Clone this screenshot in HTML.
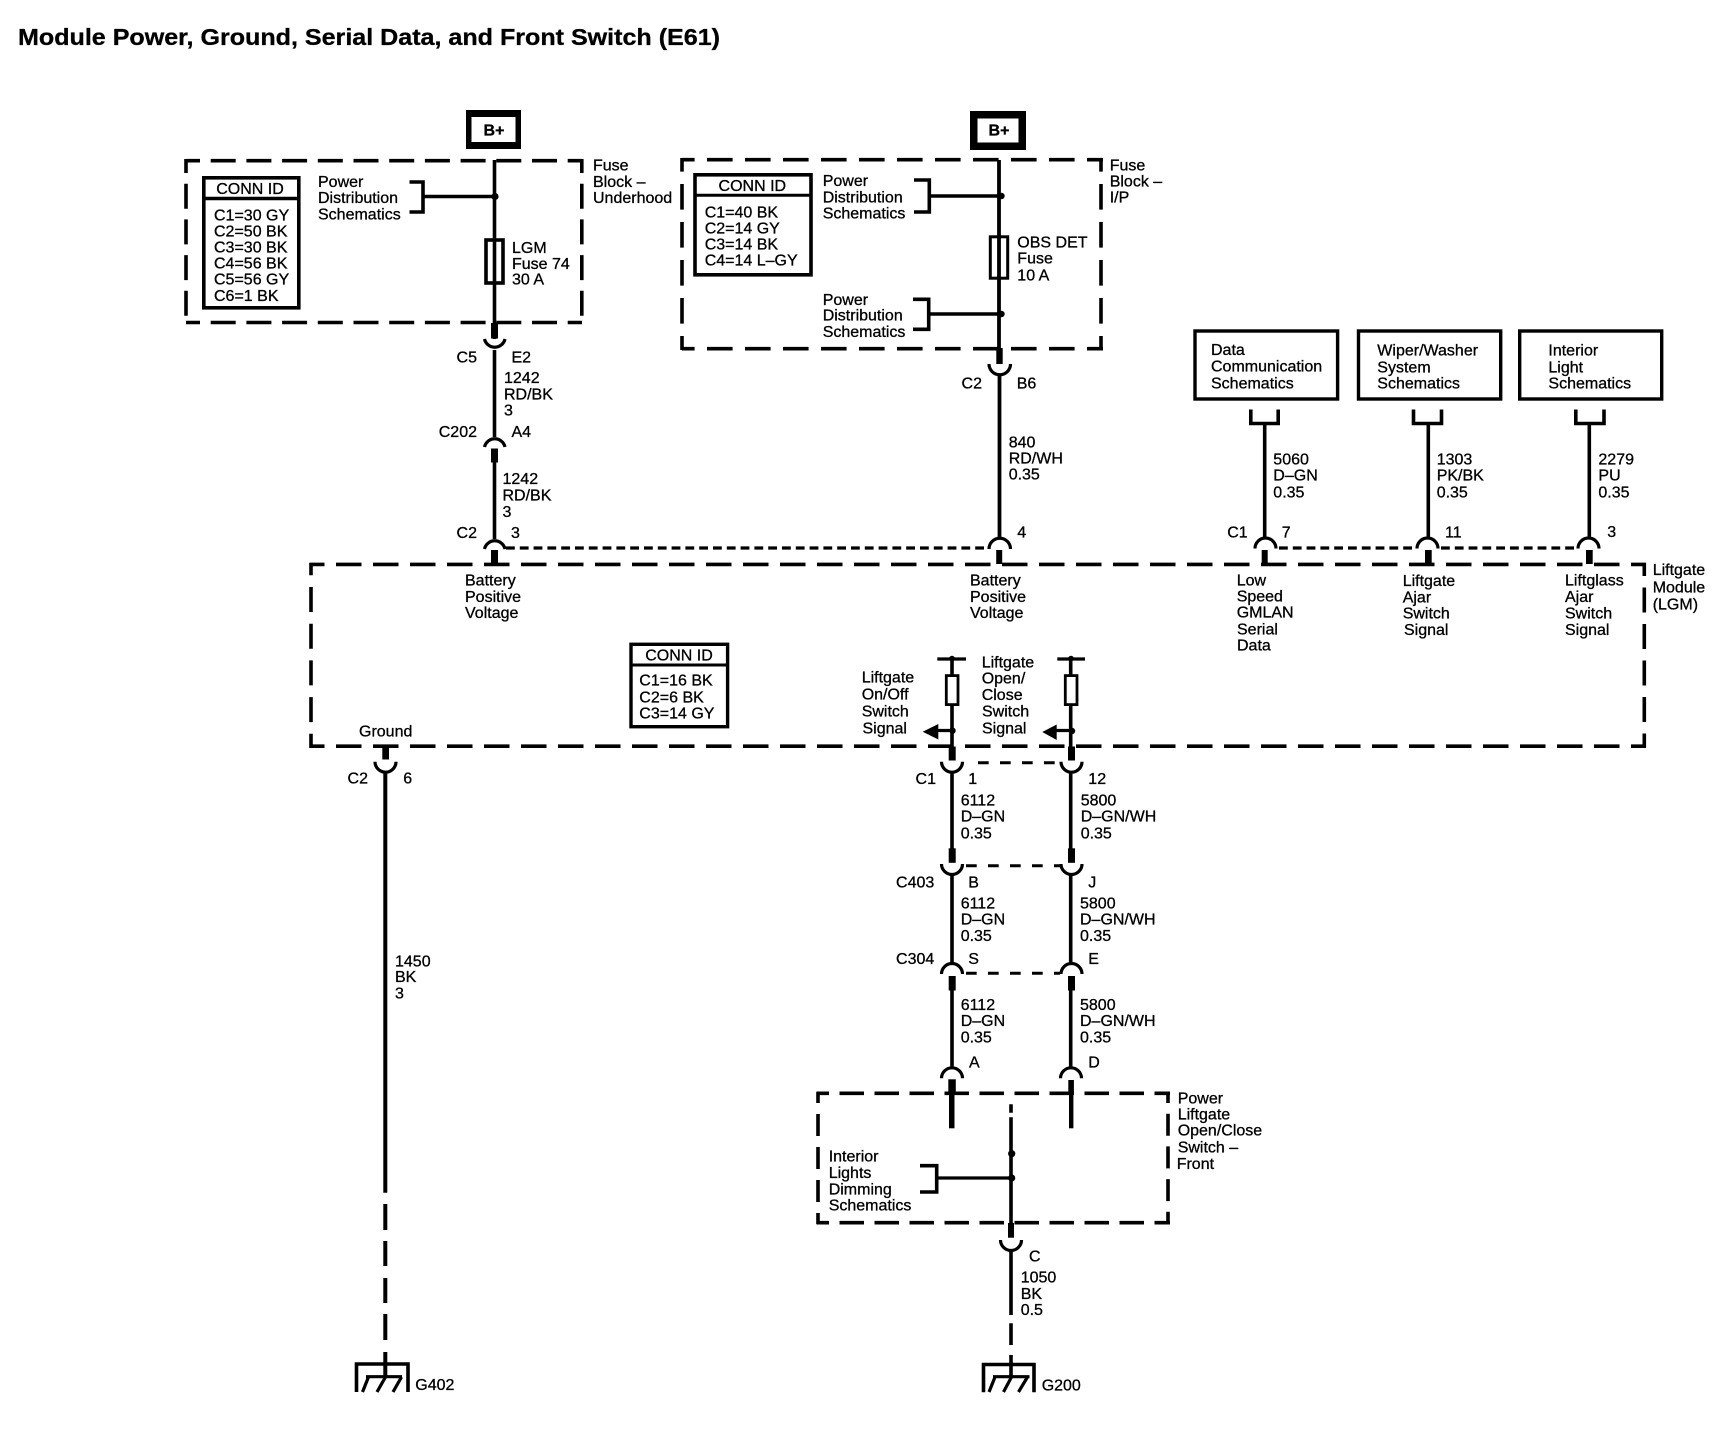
<!DOCTYPE html>
<html><head><meta charset="utf-8"><style>
html,body{margin:0;padding:0;background:#fff}
svg{display:block}
text{font-family:"Liberation Sans",sans-serif;font-size:16px;fill:#000;stroke:#000;stroke-width:.3}
.b{font-weight:bold}
.e{text-anchor:end}
.m{text-anchor:middle}
.w{stroke:#000;stroke-width:3.6;fill:none}
.n{stroke:#000;stroke-width:3.2;fill:none}
.d{stroke:#000;stroke-width:3.6;fill:none}
.dot{stroke:#000;stroke-width:3.2;fill:none;stroke-dasharray:8.8 5}
.sw{stroke:#000;stroke-width:3;fill:none;stroke-dasharray:10.7 11.3}
</style></head><body>
<svg width="1722" height="1440" viewBox="0 0 1722 1440" xmlns="http://www.w3.org/2000/svg">
<rect width="1722" height="1440" fill="#fff"/>
<text x="18" y="45" class="b" style="font-size:23.5px" textLength="702" lengthAdjust="spacingAndGlyphs">Module Power, Ground, Serial Data, and Front Switch (E61)</text>

<!-- B+ boxes -->
<rect x="466" y="110" width="55" height="39"/><rect x="471.5" y="117" width="44" height="25" fill="#fff"/>
<text x="494" y="135.5" class="m b">B+</text>
<rect x="970" y="111" width="56" height="39"/><rect x="977.5" y="118.5" width="41" height="24" fill="#fff"/>
<text x="999" y="135.5" class="m b">B+</text>

<!-- Fuse block underhood -->
<g class="d" stroke-dasharray="25 10.7">
<path d="M186 160.7H582" stroke-dashoffset="11"/>
<path d="M186 322.5H582" stroke-dashoffset="11"/>
<path d="M186 159V324" stroke-dashoffset="11"/>
<path d="M581.8 159V324" stroke-dashoffset="11"/>
</g>
<path class="w" d="M494.5 160V339"/>
<rect x="491" y="323" width="7" height="15.5"/>
<circle cx="495" cy="196.5" r="3.6"/>
<rect x="486" y="240" width="17" height="43" fill="#fff" stroke="#000" stroke-width="3.6"/>
<path class="w" d="M494.5 240V283"/>
<path class="n" d="M484.5 339A10.5 10.5 0 0 0 505 339"/>
<path class="w" d="M494.5 350V437"/>
<path class="n" d="M484.5 447A10.5 10.5 0 0 1 505 447"/>
<rect x="491" y="448.5" width="7" height="14"/>
<path class="w" d="M494.5 462V539"/>
<path class="n" d="M484.5 549A10.5 10.5 0 0 1 505 549"/>
<rect x="491" y="550" width="7" height="14"/>
<path class="w" d="M409.5 182H423V212H409.5M423 196.5H494"/>
<rect x="203.8" y="177.8" width="95" height="130" fill="none" stroke="#000" stroke-width="3.6"/>
<path class="w" d="M203 198.5H300"/>
<text x="250" y="194" class="m">CONN ID</text>
<text x="214" y="220.4">C1=30 GY</text><text x="214" y="236.4">C2=50 BK</text><text x="214" y="252.4">C3=30 BK</text><text x="214" y="268.4">C4=56 BK</text><text x="214" y="284.6">C5=56 GY</text><text x="214" y="300.8">C6=1 BK</text>
<text x="318" y="186.8">Power</text><text x="318" y="203">Distribution</text><text x="318" y="219.5">Schematics</text>
<text x="593" y="170.7">Fuse</text><text x="593" y="186.8">Block –</text><text x="593" y="203">Underhood</text>
<text x="512" y="253">LGM</text><text x="512" y="268.8">Fuse 74</text><text x="512" y="284.6">30 A</text>
<text x="477" y="362.5" class="e">C5</text><text x="511.5" y="362.5">E2</text>
<text x="504" y="383">1242</text><text x="504" y="399.5">RD/BK</text><text x="504" y="415.5">3</text>
<text x="477" y="437" class="e">C202</text><text x="511.5" y="437">A4</text>
<text x="502.5" y="484">1242</text><text x="502.5" y="500.5">RD/BK</text><text x="502.5" y="516.8">3</text>
<text x="477" y="538" class="e">C2</text><text x="511" y="538">3</text>

<!-- Fuse block IP -->
<g class="d" stroke-dasharray="25.6 12.4">
<path d="M682 159.7H1103" stroke-dashoffset="13"/>
<path d="M682 348.7H1103" stroke-dashoffset="13"/>
<path d="M682 158V350" stroke-dashoffset="12"/>
<path d="M1101 158V350" stroke-dashoffset="12"/>
</g>
<path class="w" d="M999 160V236" style="stroke-width:3.8"/>
<rect x="990.3" y="236.8" width="17.4" height="41.4" fill="#fff" stroke="#000" stroke-width="3"/>
<path class="w" d="M999 236V350" style="stroke-width:3.8"/>
<circle cx="1001.5" cy="196" r="3.2"/><circle cx="1001.5" cy="314" r="3.2"/>
<path class="w" d="M914 180H929.3V212H914M929.3 196H999"/>
<path class="w" d="M913 299.3H928.7V329.3H913M928.7 314H999"/>
<rect x="996.3" y="348" width="6.4" height="16"/>
<path class="n" d="M989 364A10.5 10.5 0 0 0 1010.5 364"/>
<path class="w" d="M999.5 375V539" style="stroke-width:3.8"/>
<path class="n" d="M989 549A10.5 10.5 0 0 1 1010.5 549"/>
<rect x="996.2" y="550" width="6" height="14"/>
<rect x="695" y="174.8" width="116" height="100" fill="none" stroke="#000" stroke-width="3.6"/>
<path class="w" d="M695 195.3H811" style="stroke-width:3"/>
<text x="752.3" y="191" class="m">CONN ID</text>
<text x="704.7" y="217.7">C1=40 BK</text><text x="704.7" y="233.7">C2=14 GY</text><text x="704.7" y="249.5">C3=14 BK</text><text x="704.7" y="265.3">C4=14 L–GY</text>
<text x="822.7" y="186">Power</text><text x="822.7" y="202.3">Distribution</text><text x="822.7" y="218.7">Schematics</text>
<text x="822.7" y="305">Power</text><text x="822.7" y="320.7">Distribution</text><text x="822.7" y="337">Schematics</text>
<text x="1109.7" y="170.3">Fuse</text><text x="1109.7" y="186.3">Block –</text><text x="1109.7" y="202.3">I/P</text>
<text x="1017.3" y="247.7">OBS DET</text><text x="1017.3" y="263.7">Fuse</text><text x="1017.3" y="280.3">10 A</text>
<text x="982" y="388.3" class="e">C2</text><text x="1016.7" y="388.3">B6</text>
<text x="1008.7" y="447.7">840</text><text x="1008.7" y="463.3">RD/WH</text><text x="1008.7" y="479.3">0.35</text>
<text x="1017.3" y="537.5">4</text>

<!-- Dotted across upper module -->
<path class="dot" d="M506 548H988"/>
<path class="dot" d="M1279 548H1416"/>
<path class="dot" d="M1441 548H1577"/>

<!-- Module dashed -->
<g class="d">
<path d="M309.5 564.4H1646" stroke-dasharray="25.5 11.5" stroke-dashoffset="10.5"/>
<path d="M309.5 746.2H1646" stroke-dasharray="25.5 11.5" stroke-dashoffset="10.5"/>
<path d="M311 563V748" stroke-dasharray="25 11.7" stroke-dashoffset="12.7"/>
<path d="M1644.3 563V748" stroke-dasharray="25 11.5" stroke-dashoffset="12"/>
</g>
<text x="970" y="585.7">Battery</text><text x="970" y="602">Positive</text><text x="970" y="618">Voltage</text>
<text x="465" y="585.7">Battery</text><text x="465" y="602">Positive</text><text x="465" y="618">Voltage</text>
<text x="359" y="736.7">Ground</text>

<!-- Schematic boxes -->
<rect x="1195" y="331" width="142.6" height="68" fill="none" stroke="#000" stroke-width="3.4"/>
<rect x="1358.5" y="331" width="142.2" height="68" fill="none" stroke="#000" stroke-width="3.4"/>
<rect x="1519.7" y="331" width="142" height="68" fill="none" stroke="#000" stroke-width="3.4"/>
<text x="1211" y="355">Data</text><text x="1211" y="371.7">Communication</text><text x="1211" y="388.3">Schematics</text>
<text x="1377.3" y="355.7">Wiper/Washer</text><text x="1377.3" y="372.3">System</text><text x="1377.3" y="388.3">Schematics</text>
<text x="1548.4" y="355.7">Interior</text><text x="1548.4" y="372.3">Light</text><text x="1548.4" y="388.3">Schematics</text>
<path class="w" d="M1250.8 409.5V423.5H1278.2V409.5M1264.7 423V538"/>
<path class="w" d="M1413.5 409.5V423.5H1441.5V409.5M1428.3 423V538"/>
<path class="w" d="M1575.8 409.5V423.5H1604V409.5M1589.3 423V538"/>
<path class="n" d="M1255 548.5A10.3 10.3 0 0 1 1276 548.5"/>
<path class="n" d="M1417 548.5A10.3 10.3 0 0 1 1438 548.5"/>
<path class="n" d="M1578 548.5A10.3 10.3 0 0 1 1599 548.5"/>
<rect x="1261.7" y="550" width="6" height="14"/><rect x="1425" y="550" width="6.7" height="14"/><rect x="1586" y="550" width="6.7" height="14"/>
<text x="1273.3" y="464.5">5060</text><text x="1273.3" y="480.7">D–GN</text><text x="1273.3" y="497.3">0.35</text>
<text x="1436.7" y="464.5">1303</text><text x="1436.7" y="480.7">PK/BK</text><text x="1436.7" y="497.3">0.35</text>
<text x="1598.4" y="464.5">2279</text><text x="1598.4" y="480.7">PU</text><text x="1598.4" y="497.3">0.35</text>
<text x="1247.7" y="537.3" class="e">C1</text><text x="1281.7" y="537.3">7</text><text x="1445" y="537.3">11</text><text x="1607.3" y="537">3</text>
<text x="1236.7" y="585.3">Low</text><text x="1236.7" y="601.7">Speed</text><text x="1236.7" y="617.7">GMLAN</text><text x="1237" y="634.3">Serial</text><text x="1237" y="650.7">Data</text>
<text x="1402.7" y="586">Liftgate</text><text x="1402.7" y="602.3">Ajar</text><text x="1402.7" y="618.3">Switch</text><text x="1404" y="635">Signal</text>
<text x="1565" y="585.5">Liftglass</text><text x="1565" y="602">Ajar</text><text x="1565" y="618.3">Switch</text><text x="1565" y="635">Signal</text>
<text x="1652.7" y="575">Liftgate</text><text x="1652.7" y="592.3">Module</text><text x="1652.7" y="609.3">(LGM)</text>

<!-- CONN ID 3 -->
<rect x="631" y="644.3" width="96.6" height="82.4" fill="none" stroke="#000" stroke-width="3.4"/>
<path class="w" d="M630 665H728" style="stroke-width:3"/>
<text x="679" y="660.7" class="m">CONN ID</text>
<text x="639.3" y="685.7">C1=16 BK</text><text x="639.3" y="702.3">C2=6 BK</text><text x="639.3" y="718.3">C3=14 GY</text>

<!-- Ground left -->
<rect x="382.3" y="747" width="6.7" height="12.5"/>
<path class="n" d="M375 761.7A10.5 10.5 0 0 0 396 761.7"/>
<path class="w" d="M385.3 772V1192.7" style="stroke-width:4"/>
<path class="w" d="M385.3 1204V1230M385.3 1241V1266M385.3 1278V1303M385.3 1314V1340M385.3 1352V1377" style="stroke-width:4"/>
<text x="368" y="783.3" class="e">C2</text><text x="403.3" y="783.3">6</text>
<text x="395" y="966.5">1450</text><text x="395" y="982">BK</text><text x="395" y="998.5">3</text>
<path class="w" d="M356.5 1392V1364H408V1392"/>
<path class="n" d="M366 1376.7H402M368.5 1377L362.5 1392M385.5 1377L377 1392M401.5 1377L393 1392"/>
<text x="415.3" y="1390">G402</text>

<!-- Switch signals -->
<path class="n" d="M937.3 659H966M1057.3 659H1085"/>
<circle cx="952" cy="658.5" r="2.8"/><circle cx="1071" cy="658.5" r="2.8"/>
<path class="w" d="M952 659V675M1070.7 659V675"/>
<rect x="946.3" y="675.6" width="11.7" height="29" fill="#fff" stroke="#000" stroke-width="2.8"/>
<rect x="1065.3" y="675.6" width="11.7" height="29" fill="#fff" stroke="#000" stroke-width="2.8"/>
<path class="w" d="M952 705V748M1070.7 705V748"/>
<circle cx="952.5" cy="730.7" r="3.2"/><circle cx="1072" cy="731" r="3.2"/>
<path class="n" d="M936 730.5H952M1055 730.5H1071"/>
<path d="M922.7 731.7L938.3 724V739.5Z"/>
<path d="M1042.3 732L1056.7 724.5V740Z"/>
<rect x="948.7" y="746.5" width="7" height="14"/><rect x="1068" y="746.5" width="7" height="14"/>
<path class="n" d="M941.5 761.7A10.5 10.5 0 0 0 962.5 761.7"/>
<path class="n" d="M1061 761.7A10.5 10.5 0 0 0 1082 761.7"/>
<path class="sw" d="M978 762.7H1060"/>
<path class="w" d="M952 772V849M1070.7 772V849"/>
<rect x="948.7" y="848.3" width="7" height="14.5"/><rect x="1068" y="848.3" width="7" height="14.5"/>
<path class="n" d="M941.5 864A10.5 10.5 0 0 0 962.5 864"/>
<path class="n" d="M1061 864A10.5 10.5 0 0 0 1082 864"/>
<path class="sw" d="M966 865.7H1060"/>
<path class="w" d="M952 874V965M1070.7 874V965"/>
<path class="n" d="M941.5 974A10.5 10.5 0 0 1 962.5 974"/>
<path class="n" d="M1061 974A10.5 10.5 0 0 1 1082 974"/>
<path class="sw" d="M966 973.3H1060"/>
<rect x="948.7" y="976" width="7" height="14.5"/><rect x="1068" y="976" width="7" height="14.5"/>
<path class="w" d="M952 990V1067M1070.7 990V1067"/>
<path class="n" d="M941.5 1078.3A10.5 10.5 0 0 1 962.5 1078.3"/>
<path class="n" d="M1060.5 1078.3A10.5 10.5 0 0 1 1081.5 1078.3"/>
<rect x="948.3" y="1079.3" width="7.5" height="14"/>
<rect x="949" y="1093" width="5.5" height="35.3"/>
<rect x="1068.3" y="1080" width="5.6" height="14"/>
<rect x="1069" y="1094" width="4.4" height="34.3"/>
<text x="861.7" y="682.7">Liftgate</text><text x="861.7" y="699.3">On/Off</text><text x="861.7" y="716.7">Switch</text><text x="862.5" y="733.3">Signal</text>
<text x="981.7" y="667.3">Liftgate</text><text x="981.7" y="683.3">Open/</text><text x="981.7" y="700">Close</text><text x="982" y="716.7">Switch</text><text x="982" y="733.7">Signal</text>
<text x="936" y="784" class="e">C1</text><text x="968.3" y="784">1</text><text x="1088.3" y="784">12</text>
<text x="960.7" y="805.7">6112</text><text x="960.7" y="821.7">D–GN</text><text x="960.7" y="838.3">0.35</text>
<text x="1080.7" y="805.7">5800</text><text x="1080.7" y="821.7">D–GN/WH</text><text x="1080.7" y="838.3">0.35</text>
<text x="934.3" y="887.3" class="e">C403</text><text x="968.3" y="887.3">B</text><text x="1088.3" y="887.3">J</text>
<text x="960.7" y="908.7">6112</text><text x="960.7" y="924.5">D–GN</text><text x="960.7" y="941">0.35</text>
<text x="1080" y="908.7">5800</text><text x="1080" y="924.5">D–GN/WH</text><text x="1080" y="941">0.35</text>
<text x="934.3" y="964" class="e">C304</text><text x="968.3" y="964">S</text><text x="1088.3" y="964">E</text>
<text x="960.7" y="1010">6112</text><text x="960.7" y="1026">D–GN</text><text x="960.7" y="1042.7">0.35</text>
<text x="1080" y="1010">5800</text><text x="1080" y="1026">D–GN/WH</text><text x="1080" y="1042.7">0.35</text>
<text x="969" y="1067.3">A</text><text x="1088.3" y="1067.3">D</text>

<!-- Power Liftgate switch -->
<g class="d" stroke-width="3.4">
<path d="M816.5 1093.3H1170" stroke-dasharray="24.5 10.5" stroke-dashoffset="12"/>
<path d="M816.5 1222.7H1170" stroke-dasharray="24.5 10.5" stroke-dashoffset="12"/>
<path d="M818 1092V1224" stroke-dasharray="22 11" stroke-dashoffset="11"/>
<path d="M1168 1092V1224" stroke-dasharray="22 10.7" stroke-dashoffset="11"/>
</g>
<path class="w" d="M1011 1104.3V1112.7M1011 1117.3V1224"/>
<circle cx="1011.7" cy="1153.7" r="3.6"/><circle cx="1011.7" cy="1178" r="3.6"/>
<path class="w" d="M920 1165.7H936.7V1192H920"/>
<path class="n" d="M936 1178H1011"/>
<rect x="1008" y="1223" width="6" height="14.7"/>
<path class="n" d="M1000.5 1240A10.5 10.5 0 0 0 1021.5 1240"/>
<path class="w" d="M1011 1250V1315M1011 1323.3V1345M1011 1355V1377"/>
<path class="w" d="M983.5 1392.3V1364.5H1034V1392.3"/>
<path class="n" d="M993 1376.7H1029.5M995 1377L989 1392M1011.5 1377L1003.5 1392M1027.5 1377L1018.5 1392"/>
<text x="828.7" y="1161.7">Interior</text><text x="828.7" y="1178">Lights</text><text x="828.7" y="1194.3">Dimming</text><text x="828.7" y="1210.7">Schematics</text>
<text x="1177.7" y="1103.3">Power</text><text x="1177.7" y="1119.3">Liftgate</text><text x="1177.7" y="1135.7">Open/Close</text><text x="1177.7" y="1152.3">Switch –</text><text x="1176.7" y="1169">Front</text>
<text x="1029" y="1261.7">C</text>
<text x="1020.7" y="1282.7">1050</text><text x="1020.7" y="1299">BK</text><text x="1020.7" y="1315">0.5</text>
<text x="1041.7" y="1390.5">G200</text>
</svg>
</body></html>
